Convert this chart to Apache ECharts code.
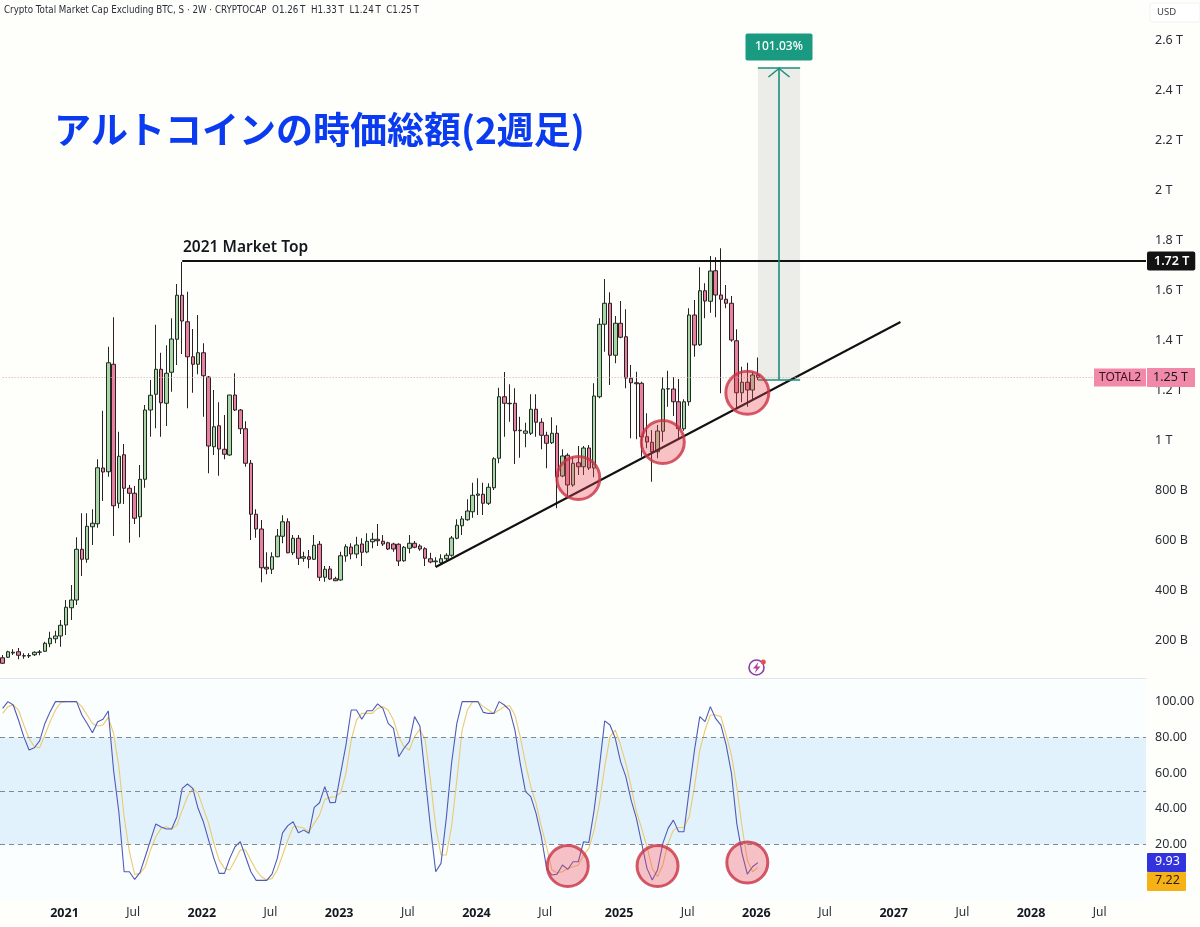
<!DOCTYPE html>
<html><head><meta charset="utf-8">
<script src="https://cdn.jsdelivr.net/npm/echarts@6/dist/echarts.min.js"></script>
<style>html,body{margin:0;padding:0;background:#fefffb}#c{width:1200px;height:927px}</style>
</head><body><div id="c"></div>
<script>
// Candle values in billions of USD (2-week bars)
const opens = [129,131,148,153,137,136,141,151,155,185,205,216,260,329,360,563,523,653,665,888,873,1303,747,941,807,787,693,843,1120,1183,1283,1147,1271,1403,1579,1473,1333,1303,1349,1252,973,1057,963,940,1180,1120,1045,907,703,644,491,483,533,615,673,549,607,
527,533,523,583,451,484,445,440,536,572,544,584,552,593,603,595,589,584,583,517,567,587,576,565,525,513,509,525,539,607,657,681,713,779,783,747,809,927,1173,1147,1147,1039,1027,1027,1123,1071,1019,989,1027,856,939,820,909,893,968,888,1173,1463,1547,1339,1467,1413,1247,1229,1227,1013,991,953,1035,1204,1204,1153,1045,1153,1500,1381,1597,1555,1677,1580,1563,1547,1397,1189,1231,1200,1260];
const closes = [107,153,151,139,136,138,151,152,187,207,216,259,331,360,563,523,655,667,889,872,1309,737,935,807,787,687,843,1120,1179,1283,1149,1267,1404,1579,1476,1333,1303,1349,1257,976,1053,964,943,1180,1120,1045,907,703,644,489,484,533,616,673,549,607,527,
533,523,579,451,483,444,437,537,573,544,580,551,595,603,597,584,564,564,516,571,587,571,564,527,512,516,525,539,608,659,684,716,779,784,747,811,925,1173,1147,1145,1037,1037,1036,1123,1071,1019,987,1027,853,936,820,907,893,968,888,1176,1463,1547,1339,1467,1411,1248,1229,1225,1013,992,953,1036,1204,1205,1153,1045,1153,1500,1380,1597,1556,1676,1580,1563,1547,1400,1189,1231,1200,1260,1250];
const lows = [104,128,140,123,125,128,136,139,152,171,187,173,220,280,340,456,509,580,649,756,853,616,727,744,589,664,611,809,1013,1047,1013,1056,1193,1300,1344,1127,1189,1263,1093,867,940,857,923,937,1116,1024,893,600,609,431,463,464,531,587,547,540,500,
513,487,520,436,433,440,436,437,513,523,527,496,547,567,576,576,560,553,496,513,547,567,557,496,507,493,504,513,533,603,620,677,689,700,700,740,800,907,1013,1073,904,929,971,1020,1013,963,887,984,727,851,773,813,860,860,880,851,1167,1353,1220,1307,1407,1207,1007,1003,933,967,833,927,993,1133,1096,1007,1037,1137,1333,1376,1487,1509,1491,1187,1527,1393,1127,1151,1133,1160,1240];
const highs = [140,157,163,168,147,147,155,160,193,233,237,280,360,420,611,707,707,723,923,1117,1373,1491,1033,984,820,816,900,1140,1240,1461,1349,1379,1487,1624,1712,1593,1444,1500,1387,1256,1200,1151,1100,1180,1267,1124,1075,920,723,680,551,551,644,699,687,620,620,
553,560,620,596,496,496,453,553,583,587,613,607,627,629,664,620,593,589,587,576,620,596,583,571,549,531,543,547,616,683,696,763,829,847,829,827,931,1209,1272,1223,1207,1093,1069,1183,1183,1087,1033,1091,1059,963,947,933,976,976,980,1227,1487,1644,1591,1496,1556,1523,1300,1273,1233,1107,1040,1060,1251,1277,1251,1244,1163,1527,1560,1691,1627,1736,1731,1767,1620,1576,1443,1293,1309,1273,1330];
// Stochastic RSI
const stochK = [96.2,100,98.1,89.7,80.4,72.9,74.2,78,87.8,94.4,100,100,100,100,100,92.5,87.8,82.6,88.8,90.1,94.8,61.7,38.4,4.8,4.8,0.5,4.3,13.2,22.5,31.5,29.8,28.7,28.7,35.6,51.5,53.9,51.5,40.3,32.8,22.5,12.3,3.9,3.9,12.3,18.8,21.6,13.2,4.8,0,0,0,3.5,12.3,26.6,30.6,32.8,26.6,28.1,26.3,40.8,43.4,52.4,43.4,43.6,59.9,75.7,95.3,95.3,90.1,94.9,94.9,98.7,96.2,87.8,85,69.2,73.9,77.6,91.6,86.4,58,30,4.8,9.5,34.7,65.5,87.8,100,100,100,100,94,93.4,93.4,100,98.1,95.3,84.1,65.5,49.6,46.8,37.5,24.4,6.7,3,3.5,8.6,6.1,10.4,10.4,21.6,21.2,39.3,63.6,89.2,86.9,79.5,66.4,58,44.9,34.7,20.7,6.7,0.2,5.8,20.7,29.1,33.7,27.2,27.2,50.5,72.9,91.6,88.8,97.2,90.6,86.9,75.7,59.9,31.9,15.1,3.5,7.6,9.93];
const stochD = [93.4,97.2,98.1,95.3,86.9,79.5,74.8,74.2,81.3,88.8,95.3,99.4,100,100,100,97.2,92.5,87.8,86.4,86.9,91.2,82.3,63.6,35.6,16,3.3,3.9,7.6,17,24.4,29.1,30,28.7,30.9,39.3,46.8,51.5,48.7,40.3,31.9,20.7,11.3,6.7,5.8,11.3,17,17,11.3,5.8,2,0.2,1.1,5.8,14.2,22.5,30,30,29.1,27.2,31.9,36.5,45.3,46.4,46.8,49,59.9,78.5,89.7,93.4,93.4,93.4,96.2,97.2,95.3,89.7,80.4,74.8,72.9,80.4,84.5,78.5,56.1,30,14.2,14.2,30,56.1,84.1,95.3,100,100,97.2,95.3,93.4,95.3,97.2,97.7,92.5,80.4,65.5,52.4,43.1,30,18.8,5.8,4.3,4.8,6.7,7.6,8.6,14.2,17.9,28.1,43.1,63.6,80.4,84.1,75.7,65.5,52.4,38.4,29.1,18.8,6.7,2,8.6,20.7,28.1,29.6,29.6,35.6,52.4,72.9,84.1,92.5,92.5,91.6,81.3,70.1,52.4,30,11.3,4.8,7.22];
// Time axis
const slotCount = 217;
const tickIndex = [12,25,38,51,64,77,90,103,117,130,143,156,169,182,195,208];
const tickLabels = ['2021','Jul','2022','Jul','2023','Jul','2024','Jul','2025','Jul','2026','Jul','2027','Jul','2028','Jul'];
const priceTicks = [200,400,600,800,1000,1200,1400,1600,1800,2000,2200,2400,2600];
const oscTicks = [20,40,60,80,100];
const oscLevels = [80,50,20];
const circlesTop = [[109,848],[125,992],[141,1189]];
const circlesBottom = [[107,8],[124,8],[141,10]];
const resistance = 1716, lastClose = 1250;
const trendStart = [82,492], trendEnd = [170,1472];
const measureLeft = 143, measureRight = 151, measureMid = 147, measureLow = 1240, measureHigh = 2490;

const categories = Array.from({length:slotCount},()=> '');
tickIndex.forEach((t,i)=>{categories[t]=tickLabels[i]});
const candles = opens.map((o,i)=>[o,closes[i],lows[i],highs[i]]);
const fmtPrice = v => v>=1000 ? (v/1000)+' T' : v+' B';
const FONT = '"Noto Sans", sans-serif';
const TEAL = '#1b8f7e';
const tealLine = {color:TEAL,width:1.6,type:'solid'};
const seg = (a,b)=>[{coord:a,lineStyle:tealLine},{coord:b}];
const circleStyle = {color:'rgba(236,70,90,0.42)',borderColor:'#c93244',borderWidth:3};

const chart = echarts.init(document.getElementById('c'),null,{width:1200,height:927});
chart.setOption({
 animation:false, backgroundColor:'#fefffb',
 grid:[
  {left:-1.95,top:0,width:1148,height:678},
  {left:-1.95,top:680,width:1148,height:220,show:true,backgroundColor:'#fbfeff',borderWidth:0}
 ],
 xAxis:[
  {type:'category',gridIndex:0,data:categories,axisLabel:{show:false},axisTick:{show:false},
   axisLine:{show:true,lineStyle:{color:'#e2e4f2',width:1}},splitLine:{show:false}},
  {type:'category',gridIndex:1,data:categories,axisTick:{show:false},axisLine:{show:false},splitLine:{show:false},
   axisLabel:{show:true,interval:(i,v)=>v!=='',margin:7,padding:[0,3,0,0],
    formatter:v=>/^\d/.test(v)?'{y|'+v+'}':'{m|'+v+'}',
    rich:{y:{fontFamily:FONT,fontSize:12.5,fontWeight:'bold',color:'#131722'},m:{fontFamily:FONT,fontSize:12,color:'#2a2e39'}}}}
 ],
 yAxis:[
  {type:'value',gridIndex:0,position:'right',min:48,max:2760,scale:true,splitLine:{show:false},axisLine:{show:false},axisTick:{show:false},
   axisLabel:{customValues:priceTicks,formatter:fmtPrice,margin:9,padding:[4,0,0,0],fontFamily:FONT,fontSize:12.5,color:'#2a2e39'}},
  {type:'value',gridIndex:1,position:'right',min:-11,max:112.1,scale:true,splitLine:{show:false},axisLine:{show:false},axisTick:{show:false},
   axisLabel:{customValues:oscTicks,formatter:v=>v.toFixed(2),margin:9,padding:[2,0,0,0],fontFamily:FONT,fontSize:12.5,color:'#2a2e39'}}
 ],
 series:[
  {type:'candlestick',name:'TOTAL2',xAxisIndex:0,yAxisIndex:0,data:candles,barWidth:4,clip:false,
   itemStyle:{color:'#a9d5a7',color0:'#e6829f',borderColor:'#1e2a22',borderColor0:'#2b1f24',borderWidth:1,borderColorDoji:'#1e2a22'},
   markArea:{silent:true,itemStyle:{color:'#ecece8'},data:[[{coord:[measureLeft,measureHigh]},{coord:[measureRight,measureLow]}]]},
   markLine:{silent:true,symbol:'none',animation:false,label:{show:false},data:[
    [{coord:[34,resistance],lineStyle:{color:'#111',width:2,type:'solid'},
      label:{show:true,position:'end',distance:1,formatter:fmtPrice(1720),backgroundColor:'#131313',color:'#fff',padding:[3,6,3,7],borderRadius:2,fontFamily:FONT,fontSize:12.5,fontWeight:600}},
     {coord:[216,resistance],x:1146}],
    [{coord:trendStart,lineStyle:{color:'#111',width:2,type:'solid'}},{coord:trendEnd}],
    [{coord:[0,lastClose],lineStyle:{color:'#d8a8a0',width:1,type:[1,2]},
      label:{show:true,position:'end',distance:0,formatter:'{a|TOTAL2}{s| }{b|'+fmtPrice(lastClose)+'}',
       rich:{a:{backgroundColor:'#f08aa8',color:'#3a1020',padding:[3,5,3,5],fontFamily:FONT,fontSize:12,width:42},s:{width:1,fontSize:12},
             b:{backgroundColor:'#f08aa8',color:'#1b1b1b',padding:[3,5,3,6],fontFamily:FONT,fontSize:12.5,width:37}}}},
     {coord:[207,lastClose],x:1094}],
    seg([measureLeft,measureHigh],[measureRight,measureHigh]),
    seg([measureLeft,measureLow],[measureRight,measureLow]),
    seg([measureMid,measureLow],[measureMid,measureHigh]),
    seg([measureMid-2,measureHigh-38],[measureMid,measureHigh-4]),
    seg([measureMid+2,measureHigh-38],[measureMid,measureHigh-4])
   ]},
   markPoint:{silent:true,animation:false,data:[{coord:[measureMid,measureHigh],
     symbol:'path://M2 0H65Q67 0 67 2V25Q67 27 65 27H2Q0 27 0 25V2Q0 0 2 0Z',symbolKeepAspect:false,symbolSize:[67,27],symbolOffset:[0,-20.5],
     itemStyle:{color:'#1a9a80'},label:{show:true,position:'inside',formatter:'101.03%',color:'#fff',fontFamily:FONT,fontSize:12,fontWeight:500}}]}
  },
  {type:'scatter',xAxisIndex:0,yAxisIndex:0,data:circlesTop,symbolSize:43,itemStyle:circleStyle,z:5,silent:true},
  {type:'line',name:'%D',xAxisIndex:1,yAxisIndex:1,data:stochD,showSymbol:false,symbol:'none',lineStyle:{color:'#edc96e',width:1.1},z:3,silent:true,
   markArea:{silent:true,itemStyle:{color:'#e2f2fc'},data:[[{yAxis:80},{yAxis:20}]]},
   markLine:{silent:true,symbol:'none',animation:false,label:{show:false},lineStyle:{color:'#85888f',width:1,type:[5,4]},data:oscLevels.map(v=>({yAxis:v}))}
  },
  {type:'line',name:'%K',xAxisIndex:1,yAxisIndex:1,data:stochK,showSymbol:false,symbol:'none',lineStyle:{color:'#4f5bb5',width:1.1},z:4,silent:true},
  {type:'scatter',xAxisIndex:1,yAxisIndex:1,data:circlesBottom,symbolSize:41,itemStyle:circleStyle,z:5,silent:true}
 ],
 graphic:[
  {type:'text',left:4,top:5,z:20,style:{text:'Crypto Total Market Cap Excluding BTC, S · 2W · CRYPTOCAP  O1.26\u2009T  H1.33\u2009T  L1.24\u2009T  C1.25\u2009T',font:'9.7px "DejaVu Sans Condensed", "Noto Sans"',fill:'#2a2e39'}},
  {type:'text',left:54,top:111,z:20,style:{text:'アルトコインの時価総額(2週足)',font:'bold 37px "Noto Sans CJK JP"',fill:'#0a3bf0'}},
  {type:'text',left:183,top:240,z:20,style:{text:'2021 Market Top',font:'600 15.5px "Noto Sans"',fill:'#14171f'}},
  {type:'rect',z:19,shape:{x:1150,y:3,width:50,height:19,r:2},style:{fill:'#ffffff',stroke:'#f2f3f3'}},
  {type:'text',left:1157,top:7,z:20,style:{text:'USD',font:'9.5px "Noto Sans"',fill:'#3a3e48'}},
  {type:'rect',z:19,shape:{x:1147,y:853,width:39,height:19,r:1},style:{fill:'#3333dd'}},
  {type:'text',left:1155,top:855,z:20,style:{text:stochK[stochK.length-1].toFixed(2),font:'12.5px "Noto Sans"',fill:'#fff'}},
  {type:'rect',z:19,shape:{x:1147,y:872,width:39,height:19,r:1},style:{fill:'#f6b116'}},
  {type:'text',left:1155,top:874,z:20,style:{text:stochD[stochD.length-1].toFixed(2),font:'12.5px "Noto Sans"',fill:'#2b1c05'}},
  {type:'circle',z:20,shape:{cx:756.5,cy:667.5,r:7.5},style:{fill:'#fff',stroke:'#8a3fa8',lineWidth:1.6}},
  {type:'polygon',z:21,shape:{points:[[758.5,662],[753,668.5],[756.5,668.5],[754.5,673.5],[760.5,666.5],[757,666.5]]},style:{fill:'#b83f9c'}},
  {type:'circle',z:22,shape:{cx:763.3,cy:662,r:2.5},style:{fill:'#e4504f'}}
 ]
});
</script></body></html>
